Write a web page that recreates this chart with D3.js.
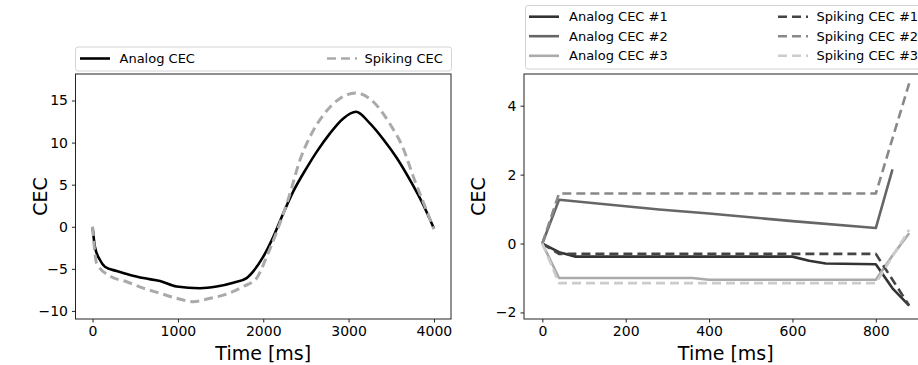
<!DOCTYPE html>
<html><head><meta charset="utf-8">
<script src="https://cdn.jsdelivr.net/npm/d3@7"></script>
<style>body{margin:0;background:#fff;} svg{display:block;font-family:"DejaVu Sans",sans-serif;}</style>
</head><body>
<svg id="c" width="918" height="365"></svg>
<script>
// ---- Left panel data ----
const leftTimes  = [0, 28, 87, 145, 282, 400, 595, 790, 985, 1258, 1454, 1649, 1805, 1883, 2000, 2118, 2235, 2352, 2509, 2626, 2782, 2938, 3087, 3250, 3406, 3563, 3739, 3870, 4000];
const analogCEC  = [0, -2.4, -3.95, -4.75, -5.26, -5.6, -6.1, -6.45, -7.1, -7.3, -7.1, -6.65, -6.1, -5.3, -3.56, -1.19, 1.6, 4.2, 7.0, 8.9, 11.1, 12.87, 13.66, 12.28, 10.4, 8.2, 5.2, 2.7, -0.2];
const spikeTimes = [0, 48, 204, 400, 595, 790, 985, 1180, 1376, 1571, 1766, 1923, 2040, 2150, 2300, 2430, 2548, 2704, 2899, 3087, 3289, 3485, 3641, 3760, 3880, 4000];
const spikingCEC = [0, -4.35, -5.86, -6.53, -7.3, -7.9, -8.5, -8.9, -8.5, -8.0, -7.1, -6.1, -3.56, -0.8, 3.5, 7.92, 10.7, 13.27, 15.25, 15.9, 14.85, 12.2, 9.3, 5.9, 2.8, -0.3];
const leftXTicks = [0, 1000, 2000, 3000, 4000];
const leftYTicks = [-10, -5, 0, 5, 10, 15];

// ---- Right panel data ----
const a1T = [0, 40, 80, 600, 640, 680, 800, 840, 880];
const a1V = [0, -0.25, -0.38, -0.38, -0.5, -0.58, -0.6, -1.3, -1.8];
const a2T = [0, 40, 280, 400, 600, 800, 840];
const a2V = [0, 1.27, 0.99, 0.87, 0.65, 0.45, 2.15];
const a3T = [0, 40, 360, 400, 800, 840, 880];
const a3V = [0, -1.0, -1.0, -1.05, -1.05, -0.35, 0.3];
const s1T = [0, 40, 800, 880];
const s1V = [0, -0.3, -0.3, -1.8];
const s2T = [0, 40, 800, 880];
const s2V = [0, 1.45, 1.45, 4.65];
const s3T = [0, 40, 800, 880];
const s3V = [0, -1.15, -1.15, 0.4];
const rightXTicks = [0, 200, 400, 600, 800];
const rightYTicks = [-2, 0, 2, 4];

const svg = d3.select("#c");
const TOP = 74, BOT = 319;

function panel(opts) {
  const x = d3.scaleLinear().domain(opts.xd).range(opts.xr);
  const y = d3.scaleLinear().domain(opts.yd).range([BOT, TOP]);
  const g = svg.append("g");
  const clipId = opts.id + "clip";
  g.append("clipPath").attr("id", clipId).append("rect")
    .attr("x", opts.xr[0]).attr("y", TOP).attr("width", opts.xr[1]-opts.xr[0]).attr("height", BOT-TOP);
  const plot = g.append("g").attr("clip-path", `url(#${clipId})`);
  const line = d3.line().x(d => x(d[0])).y(d => y(d[1])).curve(opts.curve || d3.curveLinear);
  opts.series.forEach(s => {
    plot.append("path").datum(s.t.map((t,i)=>[t, s.v[i]]))
      .attr("d", line).attr("fill","none").attr("stroke", s.color)
      .attr("stroke-width", s.w).attr("stroke-dasharray", s.dash || null)
      .attr("stroke-linejoin","round");
  });
  // spines
  g.append("rect").attr("x", opts.xr[0]).attr("y", TOP).attr("width", opts.xr[1]-opts.xr[0]).attr("height", BOT-TOP)
    .attr("fill","none").attr("stroke","#222").attr("stroke-width",1);
  const xa = g.append("g").attr("transform", `translate(0,${BOT})`)
    .call(d3.axisBottom(x).tickValues(opts.xt).tickSize(3.5).tickPadding(4).tickFormat(d3.format("d")));
  const ya = g.append("g").attr("transform", `translate(${opts.xr[0]},0)`)
    .call(d3.axisLeft(y).tickValues(opts.yt).tickSize(3.5).tickPadding(4).tickFormat(d3.format("d")));
  [xa, ya].forEach(a => {
    a.select(".domain").remove();
    a.selectAll("text").attr("font-size", 14).attr("fill","#000").attr("font-family","DejaVu Sans");
    a.selectAll("line").attr("stroke","#222");
  });
  g.append("text").attr("x", (opts.xr[0]+opts.xr[1])/2).attr("y", 360).attr("text-anchor","middle")
    .attr("font-size", 19).text("Time [ms]");
  g.append("text").attr("transform", `translate(${opts.ylx},${(TOP+BOT)/2}) rotate(-90)`)
    .attr("text-anchor","middle").attr("font-size", 19).text("CEC");
  return g;
}

panel({id:"L", xd:[-200,4200], xr:[75.5,451], yd:[-10.96,18.15], xt:leftXTicks, yt:leftYTicks, ylx:47,
  curve: d3.curveMonotoneX,
  series:[
    {t:leftTimes, v:analogCEC, color:"#000", w:2.6},
    {t:spikeTimes, v:spikingCEC, color:"#aaa", w:3, dash:"9,5"}
  ]});

panel({id:"R", xd:[-44,924], xr:[524,927.5], yd:[-2.19,4.92], xt:rightXTicks, yt:rightYTicks, ylx:485,
  series:[
    {t:a1T, v:a1V, color:"#333", w:2.6},
    {t:a2T, v:a2V, color:"#666", w:2.6},
    {t:a3T, v:a3V, color:"#aaa", w:2.6},
    {t:s1T, v:s1V, color:"#444", w:2.6, dash:"9,5"},
    {t:s2T, v:s2V, color:"#888", w:2.6, dash:"9,5"},
    {t:s3T, v:s3V, color:"#ccc", w:2.6, dash:"9,5"}
  ]});

// legends
function legendBox(x, y, w, h) {
  svg.append("rect").attr("x", x).attr("y", y).attr("width", w).attr("height", h)
    .attr("rx", 2.5).attr("fill","#fff").attr("stroke","#d4d4d4").attr("stroke-width",1);
}
function legendItem(x, y, label, color, dash, textX) {
  svg.append("line").attr("x1", x).attr("x2", x+30).attr("y1", y).attr("y2", y)
    .attr("stroke", color).attr("stroke-width", 2.6).attr("stroke-dasharray", dash || null);
  svg.append("text").attr("x", textX).attr("y", y).attr("dy","0.35em").attr("font-size", 13).text(label);
}
legendBox(75.5, 47, 376, 24);
legendItem(80, 58.5, "Analog CEC", "#000", null, 119.5);
legendItem(327, 58.5, "Spiking CEC", "#aaa", "9,5", 364.5);

legendBox(525.5, 5.5, 420, 63.5);
const rLabelsA = ["Analog CEC #1", "Analog CEC #2", "Analog CEC #3"];
const rLabelsS = ["Spiking CEC #1", "Spiking CEC #2", "Spiking CEC #3"];
const aCols = ["#333", "#666", "#aaa"], sCols = ["#444", "#888", "#ccc"];
const rowY = [16.7, 36.2, 55.8];
rLabelsA.forEach((l,i) => legendItem(529, rowY[i], l, aCols[i], null, 569));
rLabelsS.forEach((l,i) => legendItem(778, rowY[i], l, sCols[i], "9,5", 816.5));
</script>
</body></html>
